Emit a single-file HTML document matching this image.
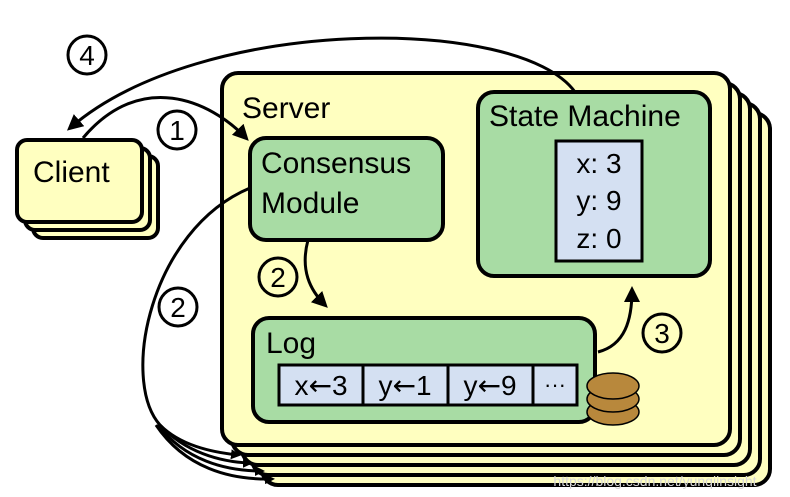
<!DOCTYPE html>
<html><head><style>
html,body{margin:0;padding:0;background:#fff;}
svg{display:block;}
text{font-family:"Liberation Sans",sans-serif;fill:#000;}
.ar{font-family:"DejaVu Sans",sans-serif;}
</style></head><body>
<svg width="790" height="497" viewBox="0 0 790 497" xmlns="http://www.w3.org/2000/svg">
<defs>
<marker id="ah" markerWidth="10" markerHeight="10" refX="7" refY="5" orient="auto" markerUnits="userSpaceOnUse">
<path d="M0,0 L10,5 L0,10 Z" fill="#000"/>
</marker>
<marker id="ahb" markerWidth="16" markerHeight="16" refX="12" refY="8" orient="auto" markerUnits="userSpaceOnUse">
<path d="M0,0 L16,8 L0,16 Z" fill="#000"/>
</marker>
</defs>
<g fill="#ffffc0" stroke="#000" stroke-width="4">
<rect x="262" y="113" width="508" height="372" rx="16"/>
<rect x="252" y="103" width="508" height="372" rx="16"/>
<rect x="242" y="93" width="508" height="372" rx="16"/>
<rect x="232" y="83" width="508" height="372" rx="16"/>
<rect x="222" y="73" width="508" height="372" rx="16"/>
</g>
<g fill="#ffffc0" stroke="#000" stroke-width="4">
<rect x="33" y="156" width="125" height="82" rx="10"/>
<rect x="25" y="148" width="125" height="82" rx="10"/>
<rect x="17" y="140" width="125" height="82" rx="10"/>
</g>
<text x="33" y="182" font-size="30">Client</text>
<text x="242" y="118" font-size="30">Server</text>
<rect x="250" y="138" width="193" height="102" rx="16" fill="#a8dca4" stroke="#000" stroke-width="4"/>
<text x="261" y="173" font-size="30">Consensus</text>
<text x="261" y="213" font-size="30">Module</text>
<rect x="478" y="92" width="232" height="184" rx="16" fill="#a8dca4" stroke="#000" stroke-width="4"/>
<text x="489" y="126" font-size="30">State Machine</text>
<rect x="556" y="141" width="86" height="120" fill="#d4e0f2" stroke="#000" stroke-width="3"/>
<text x="599" y="173" font-size="28" text-anchor="middle">x: 3</text>
<text x="599" y="210" font-size="28" text-anchor="middle">y: 9</text>
<text x="599" y="248" font-size="28" text-anchor="middle">z: 0</text>
<rect x="253" y="318" width="342" height="104" rx="16" fill="#a8dca4" stroke="#000" stroke-width="4"/>
<text x="266" y="353" font-size="30">Log</text>
<g fill="#d4e0f2" stroke="#000" stroke-width="3">
<rect x="279" y="365" width="84" height="40"/>
<rect x="363" y="365" width="85" height="40"/>
<rect x="448" y="365" width="85" height="40"/>
<rect x="533" y="365" width="44" height="40"/>
</g>
<text x="321" y="395" font-size="28" text-anchor="middle">x<tspan class="ar">←</tspan>3</text>
<text x="405" y="395" font-size="28" text-anchor="middle">y<tspan class="ar">←</tspan>1</text>
<text x="490" y="395" font-size="28" text-anchor="middle">y<tspan class="ar">←</tspan>9</text>
<text x="555" y="392" font-size="22" text-anchor="middle">···</text>
<g fill="#b8883c" stroke="#000" stroke-width="1.5">
<ellipse cx="613" cy="412" rx="26" ry="13"/>
<ellipse cx="613" cy="399" rx="26" ry="13"/>
<ellipse cx="613" cy="386" rx="26" ry="13"/>
</g>
<g fill="none" stroke="#000" stroke-width="3">
<path d="M575,92 C520,15 200,15 70,128" marker-end="url(#ahb)"/>
<path d="M83,138 C140,70 210,100 246,138" marker-end="url(#ahb)"/>
<path d="M308,240 C300,270 310,290 325,305" marker-end="url(#ahb)"/>
<path d="M598,352 C625,345 632,320 632,290" marker-end="url(#ahb)"/>
<path d="M250,188 C150,230 120,380 160,425 C180,445 210,452 238,455" marker-end="url(#ah)"/>
<path d="M160,425 C185,452 220,462 250,463" marker-end="url(#ah)"/>
<path d="M158,425 C185,460 225,471 262,471" marker-end="url(#ah)"/>
<path d="M156,425 C185,468 230,480 272,479" marker-end="url(#ah)"/>
</g>
<g fill="#fff" stroke="#000" stroke-width="3">
<circle cx="87" cy="55" r="19"/>
<circle cx="177" cy="130" r="19"/>
<circle cx="278" cy="277" r="19" fill="#ffffc0"/>
<circle cx="178" cy="307" r="19"/>
<circle cx="662" cy="333" r="19" fill="#ffffc0"/>
</g>
<g font-size="28" text-anchor="middle">
<text x="87" y="65">4</text>
<text x="177" y="140">1</text>
<text x="278" y="287">2</text>
<text x="178" y="317">2</text>
<text x="662" y="343">3</text>
</g>
<text x="655" y="486" font-size="14" style="fill:#d8d8d8" text-anchor="middle">https://blog.csdn.net/yunqiinsight</text>
</svg>
</body></html>
